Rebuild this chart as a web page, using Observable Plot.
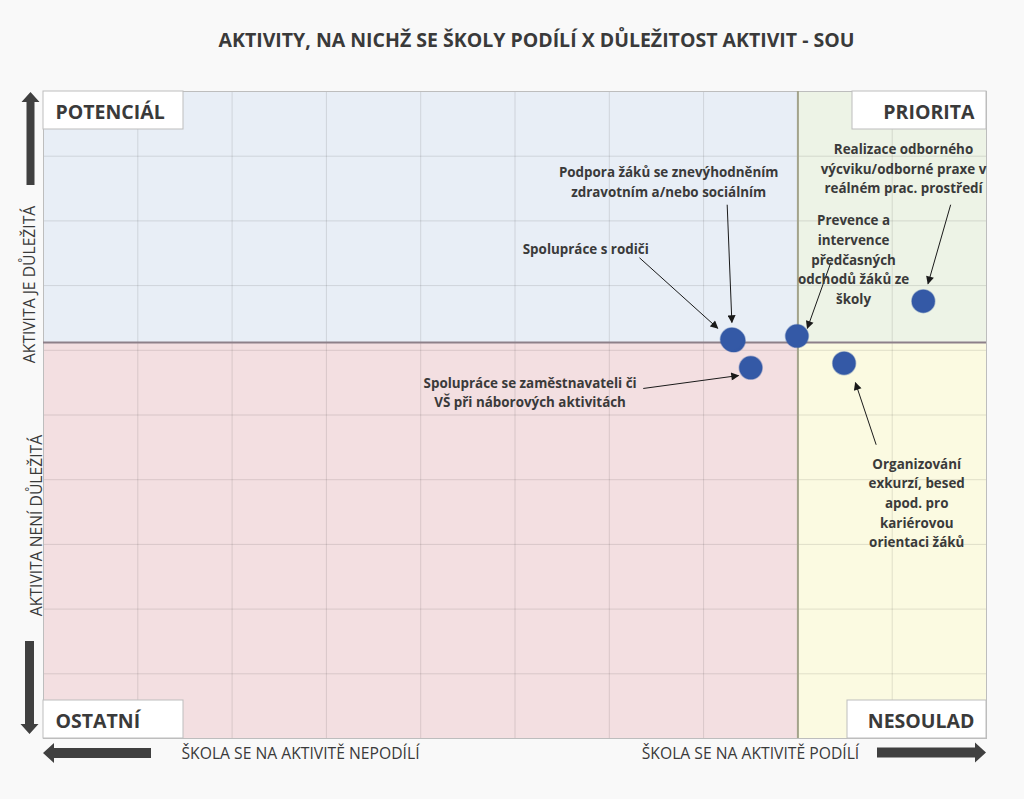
<!DOCTYPE html>
<html><head><meta charset="utf-8">
<script src="https://cdn.jsdelivr.net/npm/d3@7"></script>
<script src="https://cdn.jsdelivr.net/npm/@observablehq/plot@0.6"></script>
<style>
html,body{margin:0;padding:0;background:#f9f9f9;}
#chart svg{display:block;}
</style></head><body><div id="chart"></div>
<script>
// ---- data ----
const activities = [
  "Podpora žáků se znevýhodněním zdravotním a/nebo sociálním",
  "Spolupráce s rodiči",
  "Prevence a intervence předčasných odchodů žáků ze školy",
  "Realizace odborného výcviku/odborné praxe v reálném prac. prostředí",
  "Spolupráce se zaměstnavateli či VŠ při náborových aktivitách",
  "Organizování exkurzí, besed apod. pro kariérovou orientaci žáků"
];
const participation = [7.32, 7.30, 7.99, 9.33, 7.50, 8.49]; // x: škola se na aktivitě podílí
const importance    = [6.15, 6.17, 6.22, 6.76, 5.73, 5.80]; // y: aktivita je důležitá
const labelLines = [
  ["Podpora žáků se znevýhodněním", "zdravotním a/nebo sociálním"],
  ["Spolupráce s rodiči"],
  ["Prevence a", "intervence", "předčasných", "odchodů žáků ze", "školy"],
  ["Realizace odborného", "výcviku/odborné praxe v", "reálném prac. prostředí"],
  ["Spolupráce se zaměstnavateli či", "VŠ při náborových aktivitách"],
  ["Organizování", "exkurzí, besed", "apod. pro", "kariérovou", "orientaci žáků"]
];
const xSplit = 8.0, ySplit = 6.12;
const gridTicks = d3.range(0, 11);
const quadrantNames = ["POTENCIÁL", "PRIORITA", "OSTATNÍ", "NESOULAD"];
const title = "AKTIVITY, NA NICHŽ SE ŠKOLY PODÍLÍ X DŮLEŽITOST AKTIVIT - SOU";
const axisTexts = ["AKTIVITA JE DŮLEŽITÁ", "AKTIVITA NENÍ DŮLEŽITÁ", "ŠKOLA SE NA AKTIVITĚ NEPODÍLÍ", "ŠKOLA SE NA AKTIVITĚ PODÍLÍ"];

// ---- layout (annotation placement, data units) ----
const annLayout = [
  {lx: 6.63, ly: 8.62, ax1: 7.25, ay1: 8.25, ax2: 7.30, ay2: 6.43},
  {lx: 5.75, ly: 7.59, ax1: 6.32, ay1: 7.43, ax2: 7.15, ay2: 6.34},
  {lx: 8.59, ly: 7.42, ax1: 8.35, ay1: 7.36, ax2: 8.10, ay2: 6.34},
  {lx: 9.12, ly: 8.83, ax1: 9.62, ay1: 8.25, ax2: 9.38, ay2: 7.03},
  {lx: 5.16, ly: 5.37, ax1: 6.36, ay1: 5.41, ax2: 7.37, ay2: 5.61},
  {lx: 9.26, ly: 3.66, ax1: 8.83, ay1: 4.54, ax2: 8.61, ay2: 5.50}
];

const points = activities.map((name, i) => ({name, x: participation[i], y: importance[i]}));
const anns = labelLines.map((lines, i) => ({text: lines.join("\n"), ...annLayout[i]}));

const ML = 43, MR = 38, MT = 91, MB = 61, W = 1024, H = 799;
const FONT = "'Open Sans', sans-serif";
const at = (px, py) => ({frameAnchor: "top-left", dx: px - ML, dy: py - MT, lineAnchor: "middle"});
const TXT = "#3a3a3a";

const chart = Plot.plot({
  width: W, height: H,
  marginLeft: ML, marginRight: MR, marginTop: MT, marginBottom: MB,
  x: {domain: [0, 10], axis: null},
  y: {domain: [0, 10], axis: null},
  style: {background: "#f9f9f9", fontFamily: FONT},
  marks: [
    Plot.rect([0], {x1: 0, x2: xSplit, y1: ySplit, y2: 10, fill: "#e8eef6"}),
    Plot.rect([0], {x1: 0, x2: xSplit, y1: 0, y2: ySplit, fill: "#f3dfe1"}),
    Plot.rect([0], {x1: xSplit, x2: 10, y1: ySplit, y2: 10, fill: "#edf3e6"}),
    Plot.rect([0], {x1: xSplit, x2: 10, y1: 0, y2: ySplit, fill: "#fbfae1"}),
    Plot.ruleX(gridTicks, {stroke: "#000", strokeOpacity: 0.11}),
    Plot.ruleY(gridTicks, {stroke: "#000", strokeOpacity: 0.11}),
    Plot.frame({stroke: "#bdbdbd"}),
    Plot.ruleY([ySplit], {stroke: "#8d8089", strokeWidth: 2}),
    Plot.ruleX([xSplit], {stroke: "#a3a38b", strokeWidth: 2}),
    Plot.link(anns, {x1: "ax1", y1: "ay1", x2: "ax2", y2: "ay2", stroke: "#1a1a1a", strokeWidth: 1, className: "ann"}),
    Plot.text(anns, {x: "lx", y: "ly", text: "text", fontSize: 13.4, fontWeight: "bold", fill: TXT, lineHeight: 1.47}),
    Plot.dot(points, {x: "x", y: "y", r: 11.5, fill: "#3459a6", stroke: "#3459a6", strokeOpacity: 0.4}),
    // quadrant labels
    Plot.text([quadrantNames[0]], {text: d => d, ...at(55, 112), textAnchor: "start", fontSize: 19.5, fontWeight: "bold", fill: TXT, className: "qlabel"}),
    Plot.text([quadrantNames[1]], {text: d => d, ...at(974, 112), textAnchor: "end", fontSize: 19.5, fontWeight: "bold", fill: TXT}),
    Plot.text([quadrantNames[2]], {text: d => d, ...at(55, 721), textAnchor: "start", fontSize: 19.5, fontWeight: "bold", fill: TXT}),
    Plot.text([quadrantNames[3]], {text: d => d, ...at(974, 721), textAnchor: "end", fontSize: 19.5, fontWeight: "bold", fill: TXT}),
    // title
    Plot.text([title], {text: d => d, ...at(536, 40), textAnchor: "middle", fontSize: 19.5, fontWeight: "bold", fill: "#3a3a3a"}),
    // axis descriptions
    Plot.text([axisTexts[0]], {text: d => d, ...at(29, 284), textAnchor: "middle", rotate: -90, fontSize: 15.7, fill: TXT}),
    Plot.text([axisTexts[1]], {text: d => d, ...at(36, 525), textAnchor: "middle", rotate: -90, fontSize: 15.7, fill: TXT}),
    Plot.text([axisTexts[2]], {text: d => d, ...at(300, 753), textAnchor: "middle", fontSize: 15.7, fill: TXT}),
    Plot.text([axisTexts[3]], {text: d => d, ...at(750, 753), textAnchor: "middle", fontSize: 15.7, fill: TXT})
  ]
});

document.getElementById("chart").append(chart);

// ---- decorations: arrowheads, label boxes, big direction arrows ----
const svg = d3.select(chart);
const defs = svg.append("defs");
defs.append("marker").attr("id", "ah").attr("viewBox", "0 0 10 10").attr("refX", 9).attr("refY", 5)
  .attr("markerWidth", 9).attr("markerHeight", 8).attr("orient", "auto").attr("markerUnits", "userSpaceOnUse")
  .append("path").attr("d", "M0,0L10,5L0,10z").attr("fill", "#1a1a1a");
svg.selectAll(".ann path, .ann line").attr("marker-end", "url(#ah)");

const sx = chart.scale("x"), sy = chart.scale("y");
const L = sx.apply(0), R = sx.apply(10), T = sy.apply(10), B = sy.apply(0);

// quadrant label boxes
const boxH = 38;
const boxes = [[L, T, 140], [R - 134, T, 134], [L, B - boxH, 140], [R - 139, B - boxH, 139]];
const bg = svg.insert("g", ".qlabel");
boxes.forEach(([bx, by, bw]) => bg.append("rect").attr("x", bx).attr("y", by).attr("width", bw).attr("height", boxH)
  .attr("fill", "#ffffff").attr("stroke", "#bdbdbd").attr("stroke-width", 1));

// big direction arrows
const ARC = "#404040";
const arr = svg.append("g").attr("fill", ARC);
// up
arr.append("path").attr("d", `M${L-16.5},${T+94}V${T+11}H${L-21.5}L${L-12.5},${T+1}L${L-3.5},${T+11}H${L-8.5}V${T+94}Z`);
// down
arr.append("path").attr("d", `M${L-18},${B-97}V${B-14}H${L-22.5}L${L-13.5},${B-4}L${L-4.5},${B-14}H${L-9}V${B-97}Z`);
// left
arr.append("path").attr("d", `M${L+108},${B+10}H${L+11}V${B+5}L${L},${B+15}L${L+11},${B+25}V${B+20}H${L+108}Z`);
// right
arr.append("path").attr("d", `M${R-109},${B+9.5}H${R-11}V${B+4.5}L${R},${B+14.5}L${R-11},${B+24.5}V${B+19.5}H${R-109}Z`);
</script>
</body></html>
